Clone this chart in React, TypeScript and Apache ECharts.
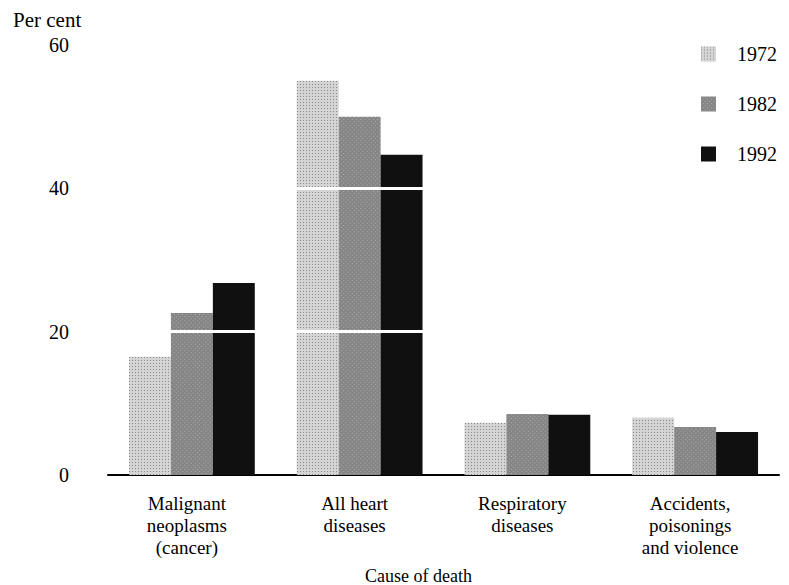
import React, { useEffect, useRef } from "react";
import * as echarts from "echarts";

const categories = [
  "Malignant\nneoplasms\n(cancer)",
  "All heart\ndiseases",
  "Respiratory\ndiseases",
  "Accidents,\npoisonings\nand violence",
];
const years = ["1972", "1982", "1992"];
const values1972 = [16.5, 55, 7.3, 8.0];
const values1982 = [22.6, 50, 8.5, 6.7];
const values1992 = [26.8, 44.7, 8.4, 6.0];

const FONT = "Liberation Serif";

export default function App() {
  const ref = useRef<HTMLDivElement>(null);
  useEffect(() => {
    if (!ref.current) return;
    const chart = echarts.init(ref.current, null, { renderer: "svg" });
    const seriesData = [values1972, values1982, values1992];
    const colors = ["#d4d4d4", "#858585", "#101010"];
    const decals: any[] = [
      { symbol: "rect", symbolSize: 1, color: "rgba(0,0,0,0.35)", dashArrayX: [1, 2], dashArrayY: [1, 2], rotation: 0 },
      { symbol: "rect", symbolSize: 1, color: "rgba(255,255,255,0.35)", dashArrayX: [1, 2], dashArrayY: [1, 2], rotation: 0.785 },
      { symbol: "none" },
    ];
    chart.setOption({
      animation: false,
      aria: { enabled: true, decal: { show: true } },
      textStyle: { fontFamily: FONT, color: "#000" },
      grid: { left: 108, right: 10, top: 45, bottom: 110, containLabel: false, outerBoundsMode: "none" },
      legend: {
        orient: "vertical",
        right: 7,
        top: 39,
        itemWidth: 15,
        itemHeight: 15,
        itemGap: 30,
        icon: "rect",
        textStyle: { fontFamily: FONT, fontSize: 20, color: "#000", padding: [0, 0, 0, 16] },
        data: years,
      },
      xAxis: {
        type: "category",
        data: categories,
        axisLine: { show: true, lineStyle: { color: "#000", width: 2 } },
        axisTick: { show: false },
        axisLabel: {
          interval: 0,
          margin: 17,
          fontFamily: FONT,
          fontSize: 19,
          lineHeight: 22,
          color: "#000",
          padding: [0, 10, 0, 0],
        },
        name: "Cause of death",
        nameLocation: "middle",
        nameGap: 92,
        nameTextStyle: { fontFamily: FONT, fontSize: 18, color: "#000", padding: [0, 50, 0, 0] },
      },
      yAxis: {
        type: "value",
        min: 0,
        max: 60,
        interval: 20,
        axisLine: { show: false },
        axisTick: { show: false },
        splitLine: { show: false },
        axisLabel: {
          margin: 39,
          align: "right",
          fontFamily: FONT,
          fontSize: 20,
          color: "#000",
        },
        name: "Per cent",
        nameLocation: "end",
        nameGap: 15,
        nameTextStyle: { fontFamily: FONT, fontSize: 21, color: "#000", align: "left", padding: [0, 0, 0, -95] },
      },
      series: years.map((y, i) => ({
        name: y,
        type: "bar",
        data: seriesData[i],
        barGap: "0%",
        barCategoryGap: "25%",
        itemStyle: { color: colors[i], decal: decals[i] },
        markLine:
          i === 2
            ? {
                silent: true,
                symbol: "none",
                z: 10,
                label: { show: false },
                lineStyle: { color: "#fff", width: 3, type: "solid" },
                data: [{ yAxis: 20 }, { yAxis: 40 }],
              }
            : undefined,
      })),
    });
    return () => chart.dispose();
  }, []);
  return <div ref={ref} style={{ position: "absolute", left: 0, top: 0, width: 789, height: 585 }} />;
}
